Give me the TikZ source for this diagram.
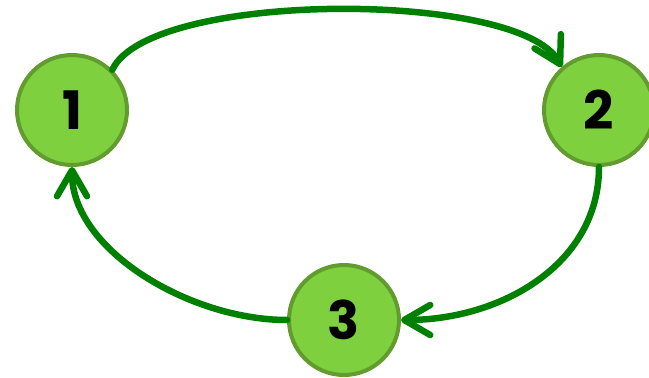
\documentclass[tikz,border=0pt]{standalone}
\usepackage{fontspec}
\setmainfont{Poppins}
\usetikzlibrary{arrows.meta}
\definecolor{nodefill}{RGB}{126,208,62}
\definecolor{nodeborder}{RGB}{98,156,46}
\definecolor{edgegreen}{RGB}{0,128,0}
\begin{document}
\begin{tikzpicture}[x=1pt,y=-1pt,
  vertex/.style={circle,fill=nodefill,draw=nodeborder,line width=4pt,minimum size=110pt,inner sep=0pt,
    font=\fontsize{53}{53}\selectfont\bfseries},
  link/.style={draw=edgegreen,line width=6.5pt,line cap=round,
    -{Straight Barb[length=26pt,width=30pt,line cap=round,line join=round]}}]
\useasboundingbox (0,0) rectangle (649,378);
\node[vertex] (n1) at (72,110) {1};
\node[vertex] (n2) at (599,110) {2};
\node[vertex] (n3) at (344,320) {3};
\draw[link] (n1.45) .. controls (150,-10) and (520,-10) .. (n2.131);
\draw[link] (n2.south) .. controls (599,265) and (500,320) .. (n3.east);
\draw[link] (n3.west) .. controls (190,320) and (72,250) .. (n1.south);
\end{tikzpicture}
\end{document}
